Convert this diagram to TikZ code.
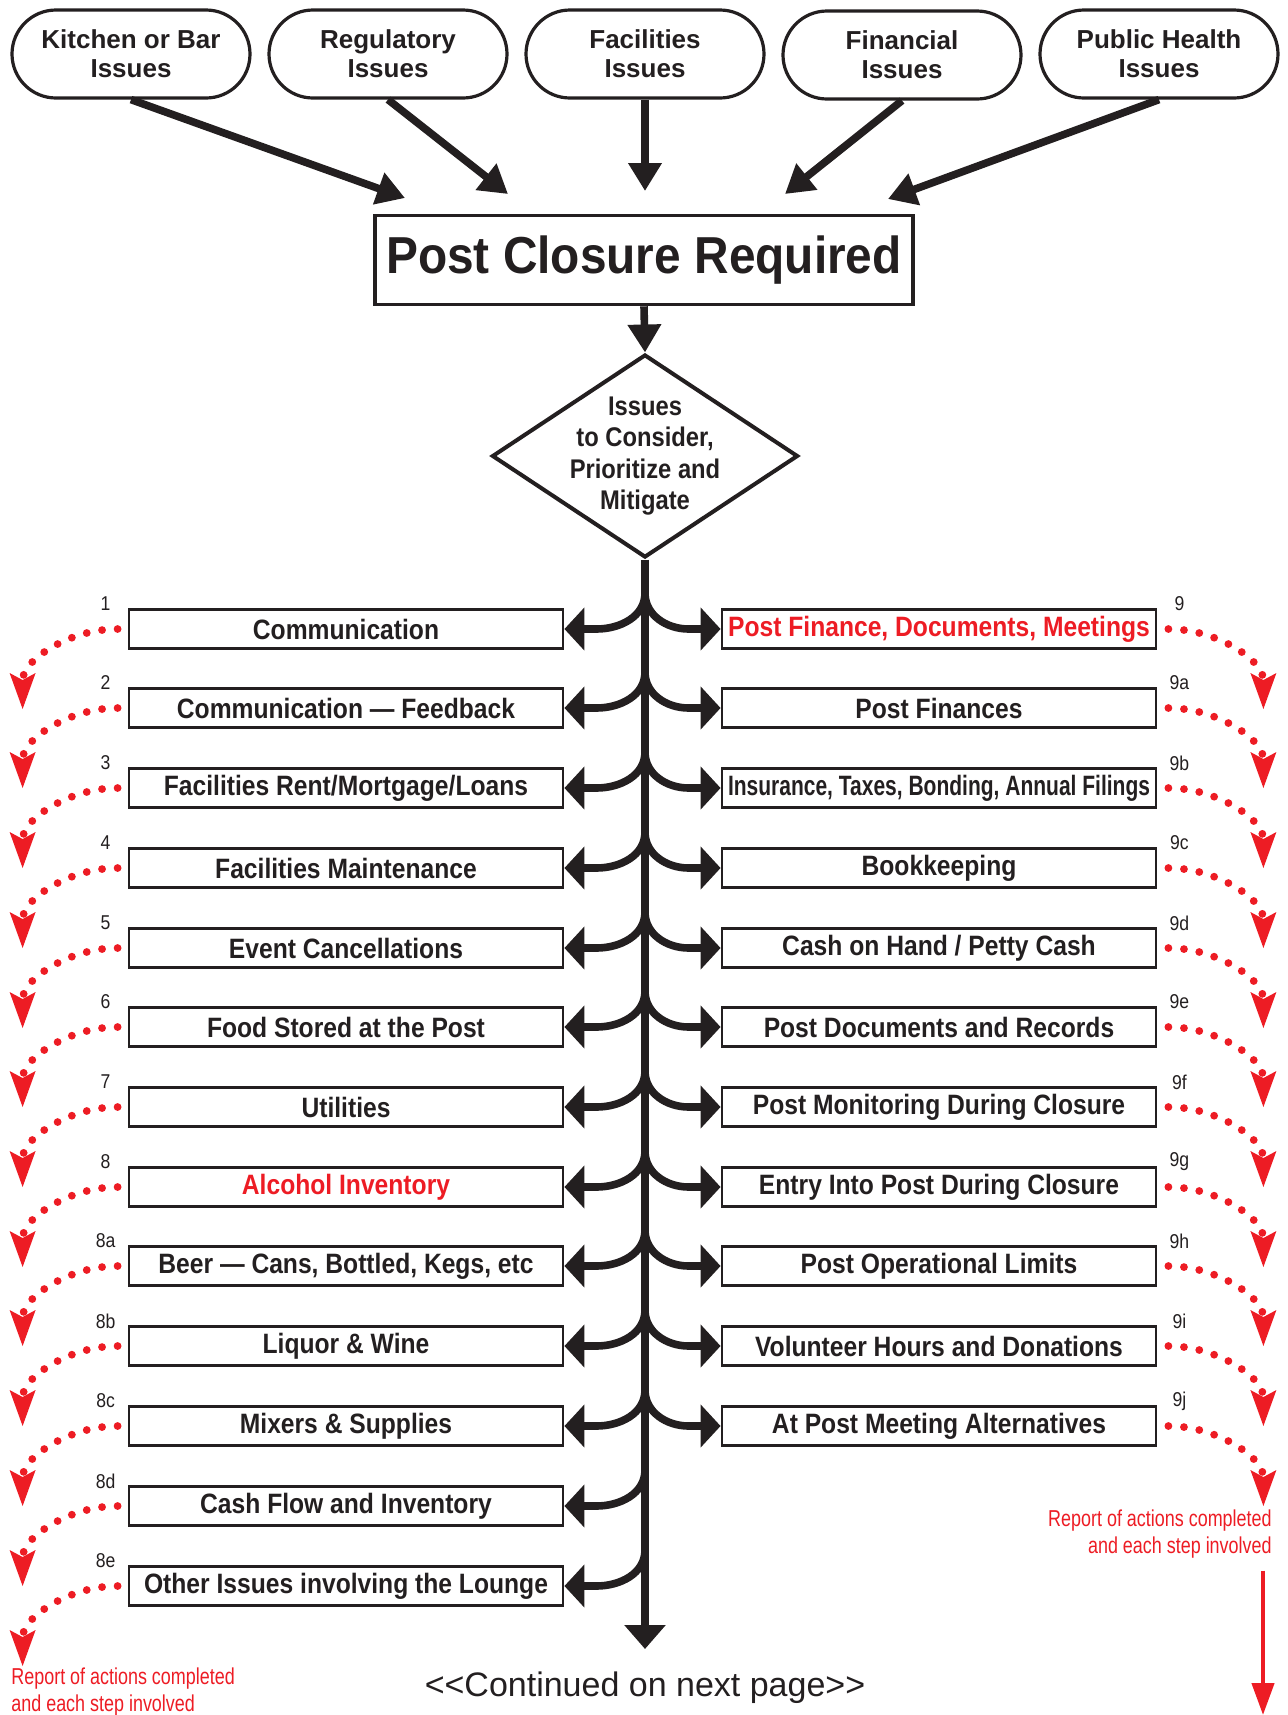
\documentclass[tikz,border=0pt]{standalone}
\usepackage{fontspec}
\usepackage{xcolor}
\usepackage{tikz}
\usetikzlibrary{shapes.geometric, arrows.meta, calc}
\setmainfont{Liberation Sans}
\newfontfamily\titlefont[FakeStretch=0.92]{Liberation Sans}
\newfontfamily\condfont[FakeStretch=0.88]{Liberation Sans}
\newfontfamily\narrowfont[FakeStretch=0.75]{Liberation Sans}
\newfontfamily\slimfont[FakeStretch=0.78]{Liberation Sans}
\definecolor{ink}{RGB}{35, 31, 32}
\definecolor{alert}{RGB}{237, 28, 36}
\tikzstyle{issue} = [rectangle, rounded corners=22pt, minimum width=119pt, minimum height=44pt, align=center, draw=ink, line width=1.6pt, text=ink, font=\fontsize{13}{14.5}\selectfont\bfseries]
\tikzstyle{closure} = [rectangle, minimum width=269pt, minimum height=44.5pt, draw=ink, line width=1.8pt, text=ink, font=\titlefont\fontsize{26}{30}\selectfont\bfseries]
\tikzstyle{decision} = [diamond, minimum width=153pt, minimum height=101.5pt, inner sep=0pt, draw=ink, line width=2pt]
\tikzstyle{decisiontext} = [align=center, text=ink, font=\condfont\fontsize{13.5}{15.7}\selectfont\bfseries]
\tikzstyle{task} = [rectangle, minimum width=217pt, minimum height=19.5pt, inner sep=0pt, draw=ink, line width=1.4pt, text=ink, font=\condfont\fontsize{14}{15}\selectfont\bfseries]
\tikzstyle{tasknum} = [inner sep=0pt, text=ink, font=\condfont\fontsize{10}{12}\selectfont]
\tikzstyle{report} = [inner sep=0pt, text=alert, font=\slimfont\fontsize{11.5}{13.7}\selectfont]
\tikzstyle{arrow} = [line width=3.8pt, draw=ink, -{Triangle[length=14pt, width=16pt]}]
\tikzstyle{branch} = [line width=3.8pt, draw=ink, -{Triangle[length=10pt, width=21pt]}]
\tikzstyle{dotflow} = [draw=alert, line width=3.9pt, line cap=round, dash pattern=on 0pt off 7.8pt, -{Stealth[length=18pt, width=13pt, inset=3.5pt, line width=0pt, fill=alert]}]

\begin{document}
\begin{tikzpicture}[x=0.5pt, y=0.5pt]
    \useasboundingbox (0,0) rectangle (1288,-1715);

    % Sources of closure
    \node[issue] (kitchen) at (131,-54) {Kitchen or Bar\\Issues};
    \node[issue] (regulatory) at (388,-54) {Regulatory\\Issues};
    \node[issue] (facilities) at (645,-54) {Facilities\\Issues};
    \node[issue] (financial) at (902,-55) {Financial\\Issues};
    \node[issue] (health) at (1159,-54) {Public Health\\Issues};

    % Closure box and decision
    \node[closure] (closure) at (644,-260) {Post Closure Required};
    \node[decision, label={[decisiontext]center:Issues\\to Consider,\\Prioritize and\\Mitigate}] (issues) at (645,-456) {};

    \coordinate (in1) at (405,-198);
    \coordinate (in2) at (508,-194);
    \coordinate (in3) at (645,-191);
    \coordinate (in4) at (785,-194);
    \coordinate (in5) at (888,-199);
    \draw[arrow] (kitchen.south) -- (in1);
    \draw[arrow] (regulatory.south) -- (in2);
    \draw[arrow] (facilities.south) -- (in3);
    \draw[arrow] (financial.south) -- (in4);
    \draw[arrow] (health.south) -- (in5);
    \draw[arrow] (closure.south) -- (issues.north);

    % Trunk
    \coordinate (trunkend) at (645,-1649);
    \draw[line width=3.8pt, draw=ink, -{Triangle[length=12pt, width=20pt]}] (issues.south) -- (trunkend);

    % Lounge side
    \node[task] (comm) at (346,-629) {Communication};
    \node[task] (feedback) at (346,-708) {Communication — Feedback};
    \node[task] (rent) at (346,-788) {Facilities Rent/Mortgage/Loans};
    \node[task] (maint) at (346,-868) {Facilities Maintenance};
    \node[task] (events) at (346,-948) {Event Cancellations};
    \node[task] (food) at (346,-1027) {Food Stored at the Post};
    \node[task] (utilities) at (346,-1107) {Utilities};
    \node[task, text=alert] (alcohol) at (346,-1187) {Alcohol Inventory};
    \node[task] (beer) at (346,-1266) {Beer — Cans, Bottled, Kegs, etc};
    \node[task] (liquor) at (346,-1346) {Liquor \& Wine};
    \node[task] (mixers) at (346,-1426) {Mixers \& Supplies};
    \node[task] (cashflow) at (346,-1506) {Cash Flow and Inventory};
    \node[task] (lounge) at (346,-1586) {Other Issues involving the Lounge};

    % Post side
    \node[task, text=alert] (postfin) at (939,-629) {Post Finance, Documents, Meetings};
    \node[task] (finances) at (939,-708) {Post Finances};
    \node[task, font=\narrowfont\fontsize{14}{15}\selectfont\bfseries] (insurance) at (939,-788) {Insurance, Taxes, Bonding, Annual Filings};
    \node[task] (books) at (939,-868) {Bookkeeping};
    \node[task] (pettycash) at (939,-948) {Cash on Hand / Petty Cash};
    \node[task] (records) at (939,-1027) {Post Documents and Records};
    \node[task] (monitoring) at (939,-1107) {Post Monitoring During Closure};
    \node[task] (entry) at (939,-1187) {Entry Into Post During Closure};
    \node[task] (limits) at (939,-1266) {Post Operational Limits};
    \node[task] (volunteer) at (939,-1346) {Volunteer Hours and Donations};
    \node[task] (meetings) at (939,-1426) {At Post Meeting Alternatives};

    \foreach \t/\n in {comm/1, feedback/2, rent/3, maint/4, events/5, food/6, utilities/7, alcohol/8, beer/8a, liquor/8b, mixers/8c, cashflow/8d, lounge/8e} {
        \node[tasknum] (num-\t) at ($(\t.west)+(-22,25)$) {\n};
        \draw[dotflow] ($(\t.west)+(-10,0)$) to[out=180, in=90] ($(\t.west)+(-105,-80)$);
        \draw[branch] ($(\t.east -| issues.south)+(0,36)$) to[out=-90, in=0] ($(\t.east)+(32,0)$) -- (\t.east);
    }
    \foreach \t/\n in {postfin/9, finances/9a, insurance/9b, books/9c, pettycash/9d, records/9e, monitoring/9f, entry/9g, limits/9h, volunteer/9i, meetings/9j} {
        \node[tasknum] (num-\t) at ($(\t.east)+(22,25)$) {\n};
        \draw[dotflow] ($(\t.east)+(11,0)$) to[out=0, in=90] ($(\t.east)+(106,-80)$);
        \draw[branch] ($(\t.west -| issues.south)+(0,36)$) to[out=-90, in=180] ($(\t.west)+(-32,0)$) -- (\t.west);
    }

    % Reports
    \node[report, anchor=north west, align=left] (leftreport) at (11,-1667) {Report of actions completed\\and each step involved};
    \node[report, anchor=north east, align=right] (rightreport) at (1272,-1509) {Report of actions completed\\and each step involved};
    \coordinate (pageend) at (1263,-1715);
    \draw[draw=alert, line width=2.2pt, -{Triangle[length=16pt, width=11pt]}] ($(rightreport.south -| pageend)+(0,-12)$) -- (pageend);

    \node[text=ink, font=\fontsize{17}{20}\selectfont] (continued) at (645,-1688) {<\kern0pt<Continued on next page>\kern0pt>};
\end{tikzpicture}
\end{document}
